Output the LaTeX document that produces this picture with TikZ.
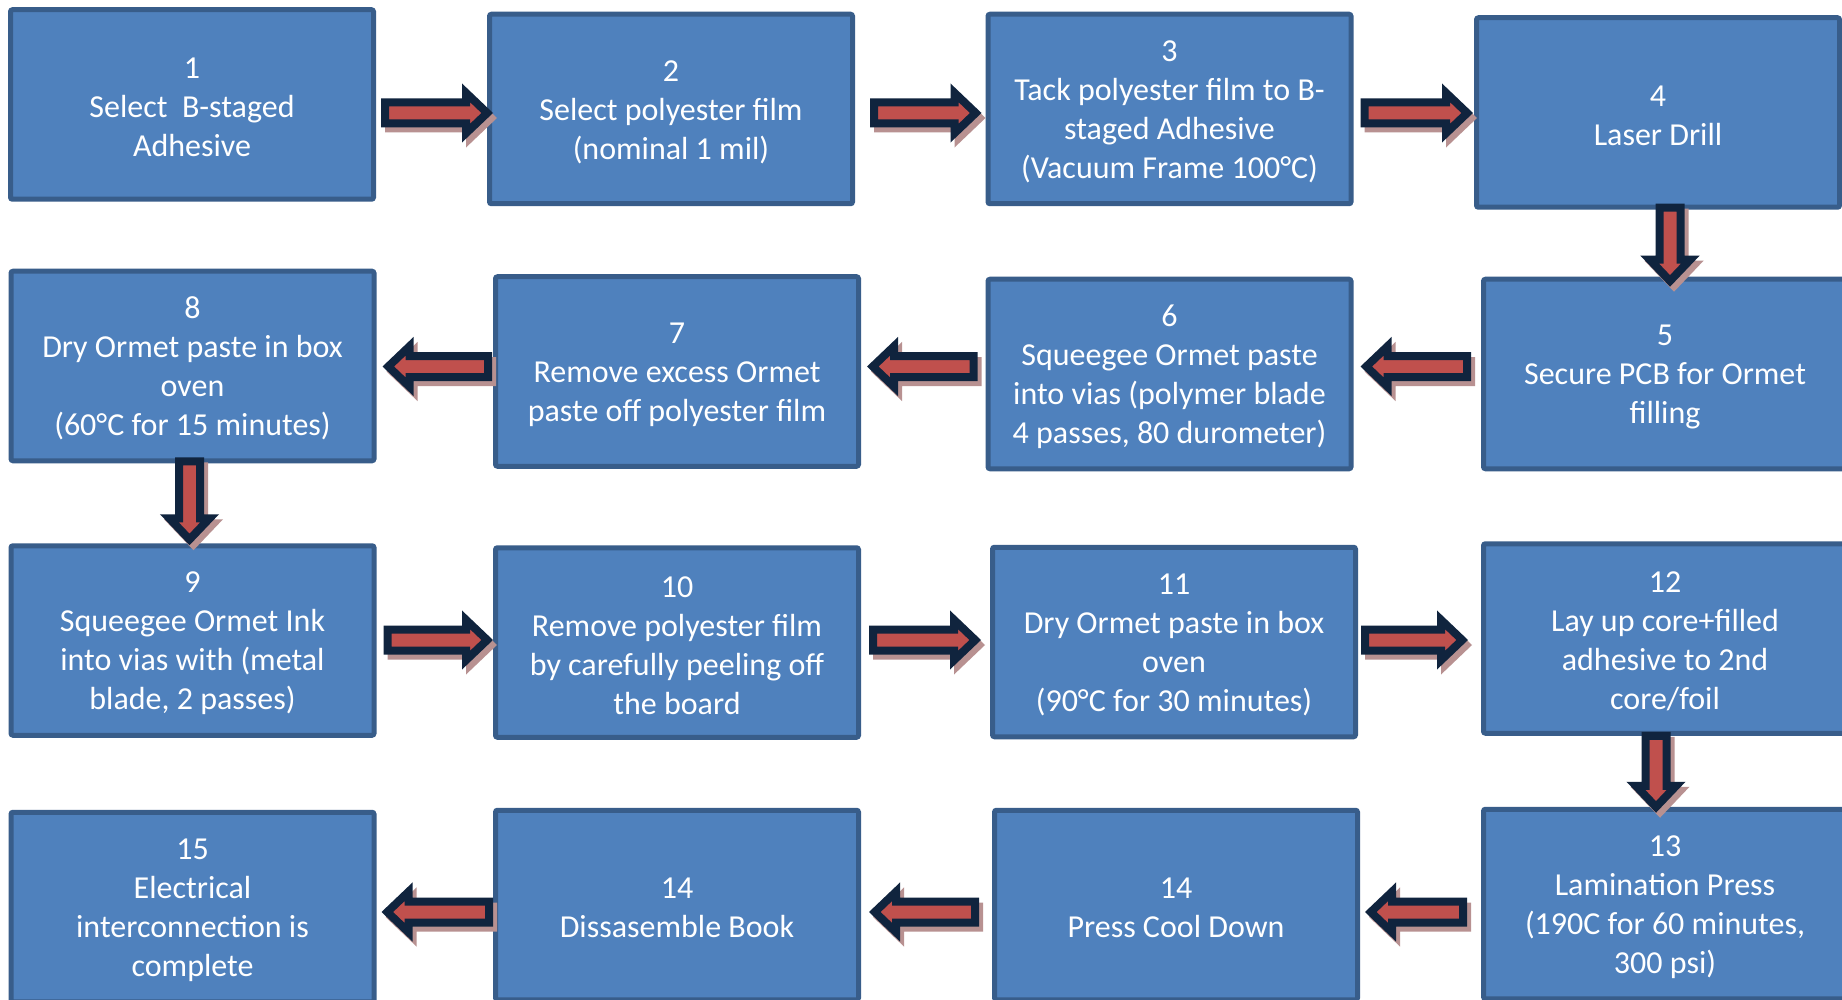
\documentclass[tikz,border=0pt]{standalone}
\usepackage{fontspec}
\setmainfont{Carlito}
\usetikzlibrary{calc}
\definecolor{boxfill}{HTML}{4F81BD}
\definecolor{boxline}{HTML}{385D8A}
\definecolor{anavy}{HTML}{10243E}
\definecolor{ared}{HTML}{C0504D}
\definecolor{ashadow}{HTML}{B89191}
\newcommand\tg{\rule{0pt}{26.5pt}}
\tikzset{
  stepbox/.style={draw=boxline, fill=boxfill, line width=5pt, rounded corners=2pt,
    minimum width=363pt, minimum height=189.5pt, inner sep=0pt, align=center,
    text=white, font=\fontsize{32}{39}\selectfont},
  arrowbody/.style={fill=ared, draw=anavy, line width=8pt, line join=miter},
  arrowshade/.style={fill=ashadow, draw=ashadow, line width=8pt, line join=miter}
}
\newcommand\barrowpath[3]{($(#1)!10.5pt!90:(#2)$) -- ($(#3)!10.5pt!90:(#2)$) -- ($(#3)!20.2pt!90:(#2)$) -- (#2) -- ($(#3)!20.2pt!-90:(#2)$) -- ($(#3)!10.5pt!-90:(#2)$) -- ($(#1)!10.5pt!-90:(#2)$) -- cycle}
\newcommand\barrow[2]{%
  \coordinate (bt) at (#1);
  \coordinate (bp) at (#2);
  \coordinate (bA) at ($(bt)!4pt!(bp)$);
  \coordinate (bB) at ($(bp)!5.8pt!(bt)$);
  \coordinate (bN) at ($(bB)!21.2pt!(bA)$);
  \coordinate (sA) at ($(bA)+(4,5)$);
  \coordinate (sB) at ($(bB)+(4,5)$);
  \coordinate (sN) at ($(bN)+(4,5)$);
  \filldraw[arrowshade] \barrowpath{sA}{sB}{sN};
  \filldraw[arrowbody] \barrowpath{bA}{bB}{bN};
}
\begin{document}
\begin{tikzpicture}[x=1pt,y=-1pt]
\useasboundingbox (0,0) rectangle (1842,1000);
\clip (0,0) rectangle (1842,1000);
\fill[white] (0,0) rectangle (1842,1000);
% row 1
\node[stepbox] (b1) at (192,104.5) {\tg 1\\Select~~B-staged\\Adhesive};
\node[stepbox] (b2) at (671,109) {\tg 2\\Select polyester film\\(nominal 1 mil)};
\node[stepbox] (b3) at (1169.5,109) {\tg 3\\Tack polyester film to B-\\staged Adhesive\\(Vacuum Frame 100°C)};
\node[stepbox] (b4) at (1658,112.5) {\tg 4\\Laser Drill};
% row 2
\node[stepbox] (b8) at (192.5,366) {\tg 8\\Dry Ormet paste in box\\oven\\(60°C for 15 minutes)};
\node[stepbox] (b7) at (677,371.5) {\tg 7\\Remove excess Ormet\\paste off polyester film};
\node[stepbox] (b6) at (1169.5,374) {\tg 6\\Squeegee Ormet paste\\into vias (polymer blade\\4 passes, 80 durometer)};
\node[stepbox] (b5) at (1665,374) {\tg 5\\Secure PCB for Ormet\\filling};
% row 3
\node[stepbox] (b9) at (192.5,640.5) {\tg 9\\Squeegee Ormet Ink\\into vias with (metal\\blade, 2 passes)};
\node[stepbox] (b10) at (677,642.5) {\tg 10\\Remove polyester film\\by carefully peeling off\\the board};
\node[stepbox] (b11) at (1174,642) {\tg 11\\Dry Ormet paste in box\\oven\\(90°C for 30 minutes)};
\node[stepbox] (b12) at (1665,638.5) {\tg 12\\Lay up core+filled\\adhesive to 2nd\\core/foil};
% row 4
\node[stepbox] (b15) at (192.5,907) {\tg 15\\Electrical\\interconnection is\\complete};
\node[stepbox] (b14a) at (677,905) {\tg 14\\Dissasemble Book};
\node[stepbox] (b14b) at (1176,905) {\tg 14\\Press Cool Down};
\node[stepbox] (b13) at (1665,904) {\tg 13\\Lamination Press\\(190C for 60 minutes,\\300 psi)};
% reference rows / columns for the arrows
\coordinate (r1) at (0,113);
\coordinate (r2) at (0,366.5);
\coordinate (r3) at (0,640);
\coordinate (r4) at (0,912);
\coordinate (c1) at (189.5,0);
\coordinate (c4) at (1670,0);
\coordinate (c12) at (1656,0);
% arrows
\barrow{$(b1.east|-r1)+(5,0)$}{$(b2.west|-r1)+(6,0)$}
\barrow{$(b2.east|-r1)+(15,0)$}{$(b3.west|-r1)+(-4,0)$}
\barrow{$(b3.east|-r1)+(7,0)$}{$(b4.west|-r1)+(-1,0)$}
\barrow{$(b4.south-|c4)+(0,-6)$}{$(b5.north-|c4)+(0,10)$}
\barrow{$(b5.west|-r2)+(-10,0)$}{$(b6.east|-r2)+(7,0)$}
\barrow{$(b6.west|-r2)+(-8,0)$}{$(b7.east|-r2)+(6,0)$}
\barrow{$(b7.west|-r2)+(-1,0)$}{$(b8.east|-r2)+(6,0)$}
\barrow{$(b8.south-|c1)+(0,-6)$}{$(b9.north-|c1)+(0,2)$}
\barrow{$(b9.east|-r3)+(7,0)$}{$(b10.west|-r3)+(0,0)$}
\barrow{$(b10.east|-r3)+(8,0)$}{$(b11.west|-r3)+(-9,0)$}
\barrow{$(b11.east|-r3)+(3,0)$}{$(b12.west|-r3)+(-13,0)$}
\barrow{$(b12.south-|c12)+(0,-4)$}{$(b13.north-|c12)+(0,6)$}
\barrow{$(b13.west|-r4)+(-14,0)$}{$(b14b.east|-r4)+(5,0)$}
\barrow{$(b14b.west|-r4)+(-13,0)$}{$(b14a.east|-r4)+(8,0)$}
\barrow{$(b14a.west|-r4)+(0,0)$}{$(b15.east|-r4)+(5,0)$}
\end{tikzpicture}
\end{document}
